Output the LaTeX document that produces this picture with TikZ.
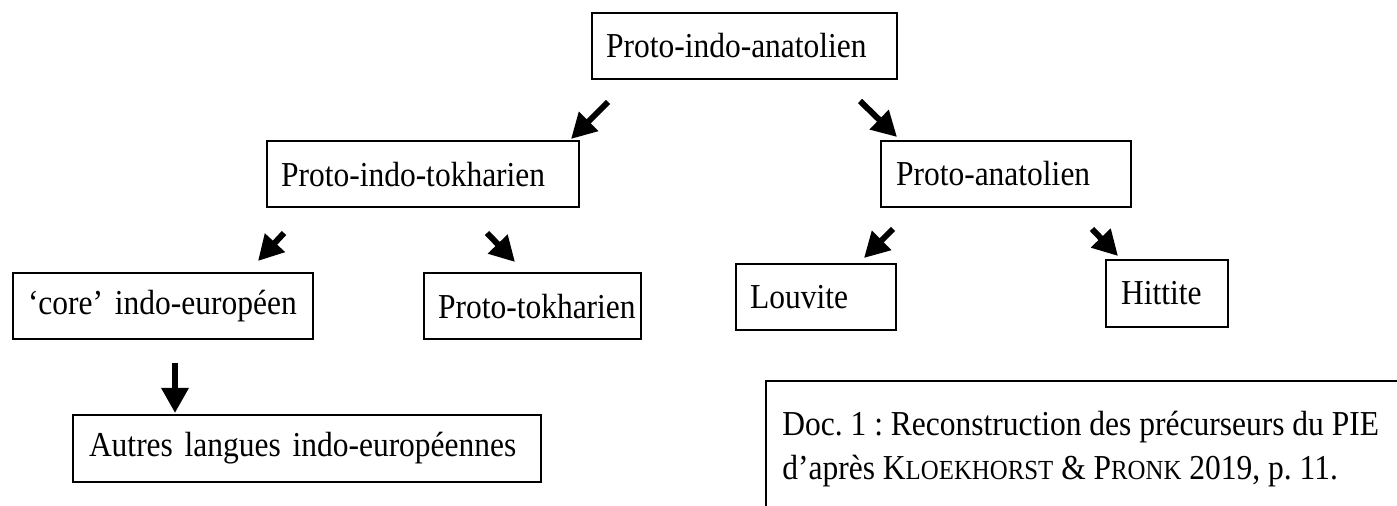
\documentclass[tikz,border=0pt]{standalone}
\usepackage{fontspec}
\setmainfont{Liberation Serif}[FakeStretch=0.9]
\usetikzlibrary{arrows.meta}
\frenchspacing
\tikzset{
  lbox/.style={draw, line width=1pt, inner xsep=7pt, inner ysep=0pt, minimum height=33pt,
    align=left, anchor=west, font=\fontsize{17.5}{24}\selectfont},
  arr/.style={line width=3pt, -{Triangle[width=13pt,length=12.5pt]}},
  docbox/.style={draw, line width=1pt, anchor=north west, minimum width=400pt, minimum height=100pt},
  doctext/.style={anchor=base west, align=left, inner sep=0pt, font=\fontsize{17.5}{22}\selectfont}
}
\newcommand{\smc}[1]{{\fontsize{13.8}{12}\selectfont #1}}
\begin{document}
\begin{tikzpicture}[x=0.5pt,y=-0.5pt]
\useasboundingbox (0,0) rectangle (1397,506);
\clip (0,0) rectangle (1397,506);
% boxes
\node[lbox, text width=138.5pt] (pia) at (591,46) {\mbox{Proto-indo-anatolien}};
\node[lbox, text width=142pt] (pit) at (266,174.5) {\mbox{Proto-indo-tokharien}};
\node[lbox, text width=110pt, inner xsep=7.5pt] (pa) at (880,174) {\mbox{Proto-anatolien}};
\node[lbox, text width=135pt, inner xsep=7.5pt] (core) at (12,306) {\mbox{‘core’ indo-européen}};
\node[lbox, text width=94.5pt] (pt) at (423,306.5) {\mbox{Proto-tokharien}};
\node[lbox, text width=66pt] (lou) at (735,297) {\mbox{Louvite}};
\node[lbox, text width=46pt, inner xsep=7.5pt, minimum height=33.5pt] (hit) at (1105,293.5) {\mbox{Hittite}};
\node[lbox, text width=218pt, inner xsep=8pt, minimum height=33.5pt] (aut) at (72,448.5) {\mbox{Autres langues indo-européennes}};
% document caption
\node[docbox] (doc) at (765,380) {};
\node[doctext] (doctxt) at (782,480) {Doc. 1 : Reconstruction des précurseurs du PIE\\d’après K\smc{LOEKHORST} \& P\smc{RONK} 2019, p. 11.};
% arrow end points
\coordinate (a1s) at (608,102); \coordinate (a1e) at (571,139);
\coordinate (a2s) at (860,101); \coordinate (a2e) at (897,137);
\coordinate (a3s) at (284,233); \coordinate (a3e) at (258,261);
\coordinate (a4s) at (487,233); \coordinate (a4e) at (515,262);
\coordinate (a5s) at (893,229); \coordinate (a5e) at (864,258);
\coordinate (a6s) at (1092,229); \coordinate (a6e) at (1118,256);
\coordinate (a7s) at (175,363); \coordinate (a7e) at (175,413);
\foreach \i in {1,...,7} { \draw[arr] (a\i s) -- (a\i e); }
\end{tikzpicture}
\end{document}
